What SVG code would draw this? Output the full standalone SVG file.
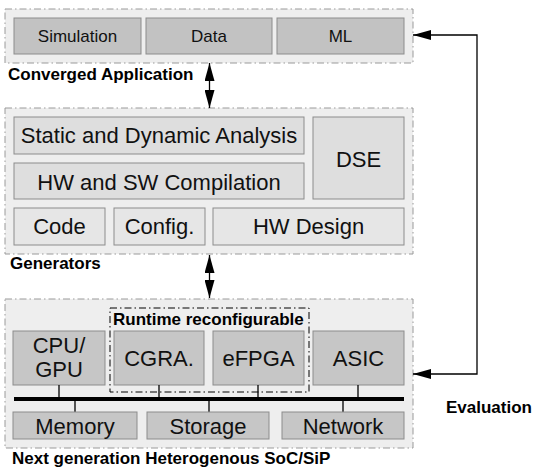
<svg xmlns="http://www.w3.org/2000/svg" width="537" height="468" viewBox="0 0 537 468">
<style>
.cont{fill:#eeeeee;stroke:#9a9a9a;stroke-width:1;stroke-dasharray:7 3 1.5 3}
.dk{fill:#c2c2c2;stroke:#8c8c8c;stroke-width:1}
.md{fill:#dedede;stroke:#8c8c8c;stroke-width:1}
.lt{fill:#e6e6e6;stroke:#8c8c8c;stroke-width:1}
.bt{fill:#c6c6c6;stroke:#8c8c8c;stroke-width:1}
.t17{font-family:"Liberation Sans",Arial,sans-serif;font-size:17px;fill:#111;text-anchor:middle}
.t22{font-family:"Liberation Sans",Arial,sans-serif;font-size:22px;fill:#111;text-anchor:middle}
.lbl{font-family:"Liberation Sans",Arial,sans-serif;font-size:17px;font-weight:bold;fill:#000}
.ln{stroke:#000;stroke-width:1.3;fill:none}
</style>
<defs>
<marker id="ah" viewBox="0 0 18 10" refX="18" refY="5" markerWidth="18" markerHeight="10" markerUnits="userSpaceOnUse" orient="auto-start-reverse">
<path d="M0,0 L18,5 L0,10 Z" fill="#000"/>
</marker>
</defs>
<g id="converged">
<rect class="cont" x="5" y="9" width="408" height="54"/>
<rect class="dk" x="14" y="18" width="127" height="36"/>
<rect class="dk" x="146" y="18" width="126" height="36"/>
<rect class="dk" x="277" y="18" width="127" height="36"/>
<text class="t17" x="77.5" y="42">Simulation</text>
<text class="t17" x="209" y="42">Data</text>
<text class="t17" x="340.5" y="42">ML</text>
<text class="lbl" x="8" y="80">Converged Application</text>
</g>
<g id="generators">
<rect class="cont" x="5" y="108" width="408" height="146"/>
<rect class="md" x="14" y="117" width="290" height="37"/>
<rect class="md" x="14" y="163" width="290" height="36"/>
<rect class="md" x="313" y="117" width="91" height="82"/>
<rect class="lt" x="14" y="208" width="91" height="37"/>
<rect class="lt" x="114" y="208" width="91" height="37"/>
<rect class="lt" x="213" y="208" width="191" height="37"/>
<text class="t22" x="159" y="143">Static and Dynamic Analysis</text>
<text class="t22" x="159" y="190">HW and SW Compilation</text>
<text class="t22" x="358.5" y="167">DSE</text>
<text class="t22" x="59.5" y="234">Code</text>
<text class="t22" x="159.5" y="234">Config.</text>
<text class="t22" x="308.5" y="234">HW Design</text>
<text class="lbl" x="10" y="269">Generators</text>
</g>
<g id="soc">
<rect class="cont" x="5" y="299" width="408" height="149"/>
<rect x="110" y="308" width="199" height="84" fill="none" stroke="#000" stroke-width="1" stroke-dasharray="7 3 1.5 3"/>
<text class="lbl" x="113" y="325">Runtime reconfigurable</text>
<rect class="bt" x="13" y="331" width="92" height="54"/>
<rect class="bt" x="114" y="331" width="90" height="54"/>
<rect class="bt" x="213" y="331" width="91" height="54"/>
<rect class="bt" x="313" y="331" width="91" height="54"/>
<text class="t22" x="59" y="353">CPU/</text>
<text class="t22" x="59" y="377">GPU</text>
<text class="t22" x="159" y="366">CGRA.</text>
<text class="t22" x="258.5" y="366">eFPGA</text>
<text class="t22" x="358.5" y="366">ASIC</text>
<line x1="14" y1="399" x2="404" y2="399" stroke="#000" stroke-width="4"/>
<g stroke="#000" stroke-width="1.3">
<line x1="59" y1="385" x2="59" y2="399"/>
<line x1="159" y1="385" x2="159" y2="399"/>
<line x1="258" y1="385" x2="258" y2="399"/>
<line x1="358" y1="385" x2="358" y2="399"/>
<line x1="75" y1="399" x2="75" y2="412"/>
<line x1="209" y1="399" x2="209" y2="412"/>
<line x1="343" y1="399" x2="343" y2="412"/>
</g>
<rect class="bt" x="13" y="412" width="124" height="27"/>
<rect class="bt" x="147" y="412" width="122" height="27"/>
<rect class="bt" x="282" y="412" width="122" height="27"/>
<text class="t22" x="75" y="434">Memory</text>
<text class="t22" x="208" y="434">Storage</text>
<text class="t22" x="343" y="434">Network</text>
<text class="lbl" x="12" y="464">Next generation Heterogenous SoC/SiP</text>
</g>
<g id="connectors">
<line class="ln" x1="209.5" y1="63" x2="209.5" y2="108" marker-start="url(#ah)" marker-end="url(#ah)"/>
<line class="ln" x1="209.5" y1="255" x2="209.5" y2="298" marker-start="url(#ah)" marker-end="url(#ah)"/>
<polyline class="ln" points="413,374 477,374 477,35 413,35" marker-start="url(#ah)" marker-end="url(#ah)"/>
<text class="lbl" x="446" y="413">Evaluation</text>
</g>
</svg>
